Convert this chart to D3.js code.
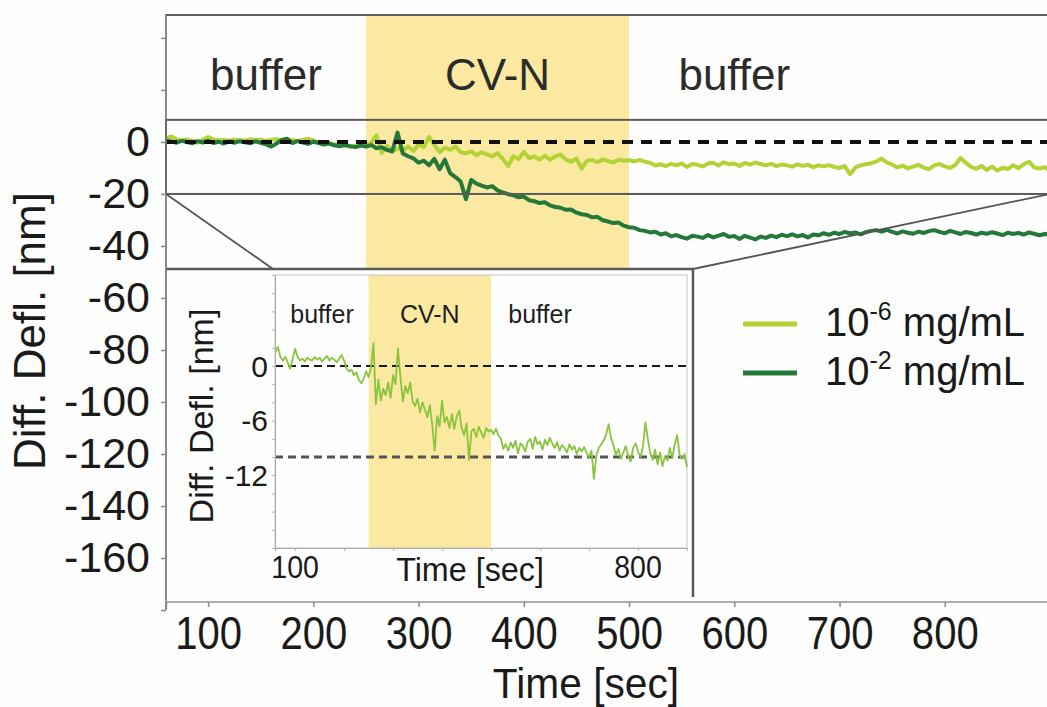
<!DOCTYPE html>
<html><head><meta charset="utf-8">
<script src="https://cdn.jsdelivr.net/npm/d3@7"></script>
<style>
html,body{margin:0;padding:0;background:#fefefe;}
svg{display:block;font-family:"Liberation Sans",Arial,Helvetica,sans-serif;}
</style></head><body>
<svg id="chart" width="1047" height="707"></svg>
<script>
// Differential deflection traces, sampled every 5 s from t = 60 s
const sampleStart = 60, sampleStep = 5;

// 10^-6 mg/mL CV-N (also shown enlarged in the inset)
const lowDose = [
  1.5, 2.1, 1.0, 0.6, 1.0, 0.4, -0.3, 0.8, 1.9, 1.0,
  0.6, 0.8, 0.5, 0.9, 0.7, 0.6, 1.0, 0.7, 0.9, 0.5,
  0.8, 1.1, 0.6, 0.9, 0.7, 0.4, 0.8, 1.2, 0.6, -0.3,
  -0.6, -0.4, -1.0, -0.7, -1.5, -1.9, -1.4, -0.6, -1.2, -0.2,
  2.5, -4.2, -1.5, -3.8, -2.5, -3.2, -1.8, -3.5, -1.0, -2.0,
  1.9, -1.2, -3.9, -2.2, -3.0, -1.8, -3.9, -4.4, -3.6, -5.1,
  -4.0, -4.8, -5.6, -4.3, -6.5, -9.3, -5.5, -6.6, -3.8, -6.2,
  -5.6, -6.8, -5.3, -6.9, -5.5, -4.9, -6.8, -7.6, -6.3, -10.3,
  -7.2, -6.9, -7.8, -6.7, -7.3, -7.9, -6.8, -7.2, -7.0, -7.5,
  -6.9, -7.6, -8.0, -9.1, -8.6, -9.3, -8.4, -9.0, -8.2, -9.6,
  -8.5, -8.8, -9.4, -8.3, -8.0, -9.1, -7.8, -8.6, -8.3, -9.2,
  -8.1, -8.7, -7.9, -8.5, -9.0, -8.4, -9.3, -8.7, -9.0, -9.5,
  -8.6, -9.2, -8.8, -9.7, -9.0, -9.4, -8.9, -9.6, -10.0, -9.3,
  -12.4, -9.8, -9.0, -8.6, -8.2, -7.5, -6.4, -7.9, -8.7, -9.8,
  -9.1, -10.2, -9.5, -8.8, -9.9, -10.5, -9.0, -8.5, -9.4, -10.0,
  -8.9, -6.2, -8.0, -9.6, -10.3, -9.2, -10.8, -9.5, -11.0, -9.9,
  -10.4, -9.0, -10.1, -8.6, -7.6, -9.8, -10.2, -9.7, -11.1
];

// 10^-2 mg/mL CV-N
const highDose = [
  0.5, 0.2, -0.3, 0.4, 0.0, -0.5, 0.3, -0.2, 0.4, -0.4,
  0.1, -0.6, 0.2, -0.3, 0.3, -0.1, -0.5, 0.2, -0.3, -0.9,
  -1.8, -0.6, 0.8, 1.2, -0.4, 0.3, -0.2, -0.7, 0.1, -0.4,
  -1.0, -0.6, -1.3, -1.7, -1.1, -1.6, -2.0, -1.4, -1.8, -1.2,
  -2.4, -2.0, -3.1, -3.6, 3.6, -4.4, -5.5, -6.3, -8.0, -7.2,
  -9.0, -6.5, -10.5, -6.8, -12.0, -13.5, -15.2, -22.0, -14.6, -16.0,
  -16.8, -17.5, -17.0, -18.6, -19.4, -20.1, -20.5, -21.3, -21.0, -22.4,
  -22.8, -23.5, -23.2, -24.4, -25.0, -25.3, -26.1, -26.0, -27.2, -27.8,
  -28.1, -29.0, -28.8, -30.1, -30.6, -31.2, -31.0, -32.2, -32.8, -33.0,
  -33.9, -34.2, -34.8, -34.5, -35.6, -35.1, -36.3, -35.8, -36.6, -37.2,
  -36.1, -36.4, -36.9, -35.8, -36.7, -36.0, -35.4, -36.5, -36.2, -37.3,
  -36.1, -36.8, -37.5, -36.4, -36.9, -36.0, -36.6, -35.7, -36.2, -35.5,
  -36.3, -35.8, -36.7, -35.6, -35.9, -35.1, -35.7, -34.9, -35.4, -34.6,
  -35.2, -34.8, -35.5, -34.7, -34.2, -33.9, -34.5, -33.8, -34.6, -35.2,
  -34.4, -34.9, -35.3, -34.5, -35.0, -34.3, -33.9, -34.6, -35.1, -34.2,
  -34.8, -35.4, -34.6, -35.0, -35.6, -34.9, -35.3, -34.7, -35.2, -35.8,
  -34.9, -35.4, -35.0, -35.6, -34.8, -35.3, -35.9, -35.4, -35.6
];

// Injection window and phase labels (seconds)
const injection = [250, 500];
const phaseLabels = ["buffer", "CV-N", "buffer"];
const phaseCenters = [155, 375, 600];

// Main axis ticks
const mainYTicks = [40, 20, 0, -20, -40, -60, -80, -100, -120, -140, -160, -180];
const mainYLabelled = [0, -20, -40, -60, -80, -100, -120, -140, -160];
const mainXTicks = [100, 200, 300, 400, 500, 600, 700, 800];

// Inset ticks and reference levels
const insetYMinor = [10, 8, 6, 4, 2, 0, -2, -4, -6, -8, -10, -12, -14, -16, -18, -20];
const insetYLabels = [0, -6, -12];
const insetXMinor = [100, 200, 300, 400, 500, 600, 700, 800, 900];
const insetXLabels = [100, 800];
const insetRefLevels = [0, -10];
const zoomRange = [-20, 8.5];

// Legend
const seriesNames = [{base: "10", exp: "-6", unit: " mg/mL"}, {base: "10", exp: "-2", unit: " mg/mL"}];
const seriesColors = ["#b3d236", "#23783a"];

const svg = d3.select("#chart");
const times = lowDose.map((_, i) => sampleStart + i * sampleStep);
const ptsLow = lowDose.map((v, i) => [times[i], v]);
const ptsHigh = highDose.map((v, i) => [times[i], v]);

// ---------- main panel ----------
const x = d3.scaleLinear().domain([60, 900]).range([166, 1050]);
const y = d3.scaleLinear().domain([-176.9, 49.2]).range([602, 14]);

svg.append("rect").attr("x", x(injection[0])).attr("y", y(49.2))
  .attr("width", x(injection[1]) - x(injection[0])).attr("height", y(-176.9) - y(49.2))
  .attr("fill", "#fbe9a2");

// phase labels
svg.append("g").selectAll("text").data(phaseLabels).join("text")
  .attr("x", (d, i) => x(phaseCenters[i])).attr("y", 90)
  .attr("text-anchor", "middle").attr("font-size", 44).attr("fill", "#2b2b2b")
  .text(d => d);

const lineMain = d3.line().x(d => x(d[0])).y(d => y(d[1]));
svg.append("path").datum(ptsLow).attr("d", lineMain)
  .attr("fill", "none").attr("stroke", seriesColors[0]).attr("stroke-width", 4).attr("stroke-linejoin", "round");
svg.append("path").datum(ptsHigh).attr("d", lineMain)
  .attr("fill", "none").attr("stroke", seriesColors[1]).attr("stroke-width", 4).attr("stroke-linejoin", "round");

// zero reference
svg.append("line").attr("x1", x(60)).attr("x2", x(900)).attr("y1", y(0)).attr("y2", y(0))
  .attr("stroke", "#111").attr("stroke-width", 4).attr("stroke-dasharray", "11,8");

// top frame
svg.append("line").attr("x1", x(60)).attr("x2", x(900)).attr("y1", y(49.2) + 1).attr("y2", y(49.2) + 1)
  .attr("stroke", "#5e5e5e").attr("stroke-width", 2);

// zoom window
svg.append("rect").attr("x", x(60)).attr("y", y(zoomRange[1]))
  .attr("width", x(900) - x(60)).attr("height", y(zoomRange[0]) - y(zoomRange[1]))
  .attr("fill", "none").attr("stroke", "#5a5a5a").attr("stroke-width", 2);

// ---------- inset ----------
const xi = d3.scaleLinear().domain([59, 900]).range([275, 687]);
const yi = d3.scaleLinear().domain([-20, 10]).range([548, 275]);
const frameTop = 269, frameRight = 693, frameBottom = 597;

// connector lines from zoom window to inset frame
svg.append("line").attr("x1", x(60)).attr("y1", y(zoomRange[0])).attr("x2", xi(59) - 2).attr("y2", frameTop)
  .attr("stroke", "#555").attr("stroke-width", 1.8);
svg.append("line").attr("x1", x(900)).attr("y1", y(zoomRange[0])).attr("x2", frameRight).attr("y2", frameTop)
  .attr("stroke", "#555").attr("stroke-width", 1.8);

svg.append("rect").attr("x", x(60)).attr("y", frameTop)
  .attr("width", frameRight - x(60)).attr("height", 601 - frameTop).attr("fill", "#fefefe");
svg.append("path").attr("d", `M${x(60)},${frameTop}H${frameRight}V${frameBottom}`)
  .attr("fill", "none").attr("stroke", "#595959").attr("stroke-width", 2.5);

svg.append("rect").attr("x", xi(injection[0])).attr("y", yi(10))
  .attr("width", xi(injection[1]) - xi(injection[0])).attr("height", yi(-20) - yi(10))
  .attr("fill", "#fbe9a2");

// inset plot border
svg.append("rect").attr("x", xi(59)).attr("y", yi(10))
  .attr("width", xi(900) - xi(59)).attr("height", yi(-20) - yi(10))
  .attr("fill", "none").attr("stroke", "#c4c4c4").attr("stroke-width", 1);

svg.append("g").selectAll("text").data(phaseLabels).join("text")
  .attr("x", (d, i) => xi(phaseCenters[i])).attr("y", 323)
  .attr("text-anchor", "middle").attr("font-size", 25).attr("fill", "#1e1e1e")
  .text(d => d);

// reference levels
svg.append("g").selectAll("line").data(insetRefLevels).join("line")
  .attr("x1", xi(59)).attr("x2", xi(900)).attr("y1", d => yi(d)).attr("y2", d => yi(d))
  .attr("stroke", (d, i) => i === 0 ? "#1a1a1a" : "#555")
  .attr("stroke-width", (d, i) => i === 0 ? 2 : 3)
  .attr("stroke-dasharray", "8,5");

const lineInset = d3.line().x(d => xi(d[0])).y(d => yi(d[1]));
svg.append("path").datum(ptsLow).attr("d", lineInset)
  .attr("fill", "none").attr("stroke", "#89c43e").attr("stroke-width", 1.8).attr("stroke-linejoin", "round");

// inset axes
const iy = svg.append("g").attr("transform", `translate(${xi(59)},0)`)
  .call(d3.axisLeft(yi).tickValues(insetYMinor).tickSize(3).tickFormat(""));
iy.select(".domain").attr("stroke", "#a9a9a9");
iy.selectAll(".tick line").attr("stroke", "#b5b5b5");
svg.append("g").selectAll("text").data(insetYLabels).join("text")
  .attr("x", 268).attr("y", d => yi(d)).attr("dy", "0.36em")
  .attr("text-anchor", "end").attr("font-size", 30).attr("fill", "#1a1a1a")
  .text(d => String(d));

const ix = svg.append("g").attr("transform", `translate(0,${yi(-20)})`)
  .call(d3.axisBottom(xi).tickValues(insetXMinor).tickSize(3).tickFormat(""));
ix.select(".domain").attr("stroke", "#a9a9a9");
ix.selectAll(".tick line").attr("stroke", "#b5b5b5");
svg.append("g").selectAll("text").data(insetXLabels).join("text")
  .attr("transform", d => `translate(${xi(d)},578) scale(0.92,1)`)
  .attr("text-anchor", "middle").attr("font-size", 31).attr("fill", "#1a1a1a")
  .text(d => String(d));

svg.append("text").attr("transform", "translate(470,581) scale(0.95,1)")
  .attr("text-anchor", "middle").attr("font-size", 34).attr("fill", "#1a1a1a")
  .text("Time [sec]");
svg.append("text").attr("transform", "translate(213,416) rotate(-90)")
  .attr("text-anchor", "middle").attr("font-size", 34).attr("fill", "#1a1a1a")
  .text("Diff. Defl. [nm]");

// ---------- main axes ----------
const ay = svg.append("g").attr("transform", `translate(${x(60)},0)`)
  .call(d3.axisLeft(y).tickValues(mainYTicks).tickSize(5).tickPadding(11)
    .tickFormat(d => mainYLabelled.includes(d) ? String(d) : ""));
ay.select(".domain").attr("d", `M0,${y(49.2)}V${y(-180)}`).attr("stroke", "#6e6e6e").attr("stroke-width", 1.6);
ay.selectAll(".tick line").attr("stroke", "#8a8a8a").attr("stroke-width", 1.5);
ay.selectAll(".tick text").attr("font-size", 43).attr("fill", "#1a1a1a")
  .attr("font-family", "'Liberation Sans',Arial,sans-serif");

const ax = svg.append("g").attr("transform", `translate(0,602)`)
  .call(d3.axisBottom(x).tickValues([60].concat(mainXTicks)).tickSize(5).tickPadding(9)
    .tickFormat(d => mainXTicks.includes(d) ? String(d) : ""));
ax.select(".domain").attr("d", `M${x(60)},0H${x(900)}`).attr("stroke", "#b3ada8").attr("stroke-width", 2);
ax.selectAll(".tick line").attr("stroke", "#8a8a8a").attr("stroke-width", 1.5);
ax.selectAll(".tick text").attr("font-size", 46).attr("fill", "#1a1a1a")
  .attr("font-family", "'Liberation Sans',Arial,sans-serif")
  .attr("transform", "scale(0.87,1)");

svg.append("text").attr("transform", "translate(586,698) scale(0.97,1)")
  .attr("text-anchor", "middle").attr("font-size", 42).attr("fill", "#1a1a1a")
  .text("Time [sec]");
svg.append("text").attr("transform", "translate(45,331) rotate(-90)")
  .attr("text-anchor", "middle").attr("font-size", 44).attr("fill", "#1a1a1a")
  .text("Diff. Defl. [nm]");

// ---------- legend ----------
const legend = svg.append("g").selectAll("g").data(seriesNames).join("g")
  .attr("transform", (d, i) => `translate(743,${324 + i * 49})`);
legend.append("line").attr("x1", 0).attr("x2", 54).attr("y1", 0).attr("y2", 0)
  .attr("stroke", (d, i) => seriesColors[i]).attr("stroke-width", 5);
const lt = legend.append("text").attr("x", 82).attr("y", 12)
  .attr("font-size", 40).attr("fill", "#1a1a1a");
lt.append("tspan").text(d => d.base);
lt.append("tspan").attr("font-size", 25).attr("dy", -16).text(d => d.exp);
lt.append("tspan").attr("dy", 16).text(d => d.unit);
</script>
</body></html>
